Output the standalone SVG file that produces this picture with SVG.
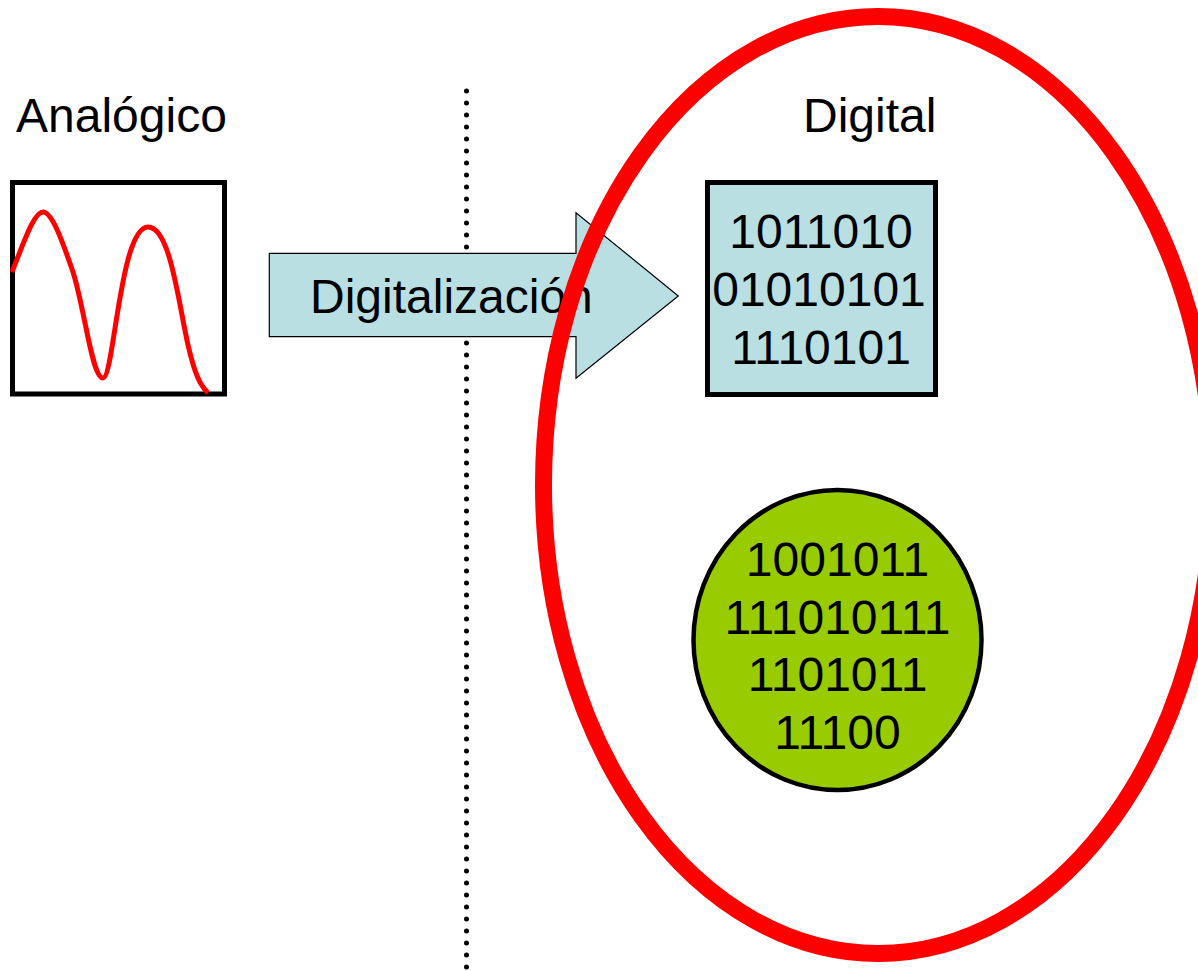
<svg xmlns="http://www.w3.org/2000/svg" width="1198" height="971" viewBox="0 0 1198 971">
  <style>
    text { font-family: "Liberation Sans", Arial, sans-serif; fill: #000; }
    .label { font-size: 48px; }
    .bits { font-size: 48px; text-anchor: middle; }
    .frame { stroke: #000; stroke-width: 5; }
    .pale { fill: #B9DFE3; }
  </style>

  <rect x="0" y="0" width="1198" height="971" fill="#fff"/>

  <!-- dotted divider between the two halves -->
  <g id="divider">
    <line x1="466.5" y1="91" x2="466.5" y2="968" stroke="#000" stroke-width="5" stroke-linecap="round" stroke-dasharray="0 12"/>
  </g>

  <!-- headings -->
  <g id="label-analogico">
    <text class="label" x="16" y="132">Analógico</text>
  </g>
  <g id="label-digital">
    <text class="label" x="803" y="132">Digital</text>
  </g>

  <!-- analog signal sample -->
  <g id="analog-signal">
    <rect class="frame" x="12.5" y="182.5" width="212" height="211.5" fill="#fff"/>
    <path d="M12,272 C24,242 34,212 43,212 C52,212 62,240 73,272 C85,310 92,378 103,378 C114,378 120,227 148,227 C170,227 178,300 188,345 C195,375 200,385 208,393"
          fill="none" stroke="#FF0000" stroke-width="5"/>
  </g>

  <!-- conversion arrow -->
  <g id="connectors">
    <g id="digitalizacion">
      <polygon class="pale" points="269.3,253.3 576,253.3 576,212.7 678.3,296 576,378.3 576,336.7 269.3,336.7"
               stroke="#000" stroke-width="1.2"/>
      <text x="310" y="313" font-size="48px">Digitalización</text>
    </g>
  </g>

  <!-- digital data block -->
  <g id="digital-block">
    <rect class="frame pale" x="707.5" y="182.5" width="228" height="212"/>
    <text class="bits" x="821" y="248">1011010</text>
    <text class="bits" x="819" y="306">01010101</text>
    <text class="bits" x="821" y="364">1110101</text>
  </g>

  <!-- digital data disc -->
  <g id="digital-disc">
    <ellipse cx="837.5" cy="640" rx="144" ry="150" fill="#99CC00" stroke="#000" stroke-width="4.5"/>
    <text class="bits" x="837.5" y="576">1001011</text>
    <text class="bits" x="837.5" y="634">111010111</text>
    <text class="bits" x="837.5" y="691">1101011</text>
    <text class="bits" x="837.5" y="749">11100</text>
  </g>

  <!-- highlight around the digital domain -->
  <g id="digital-domain">
    <ellipse cx="878" cy="485" rx="334.5" ry="468.5" fill="none" stroke="#FF0000" stroke-width="17"/>
  </g>
</svg>
